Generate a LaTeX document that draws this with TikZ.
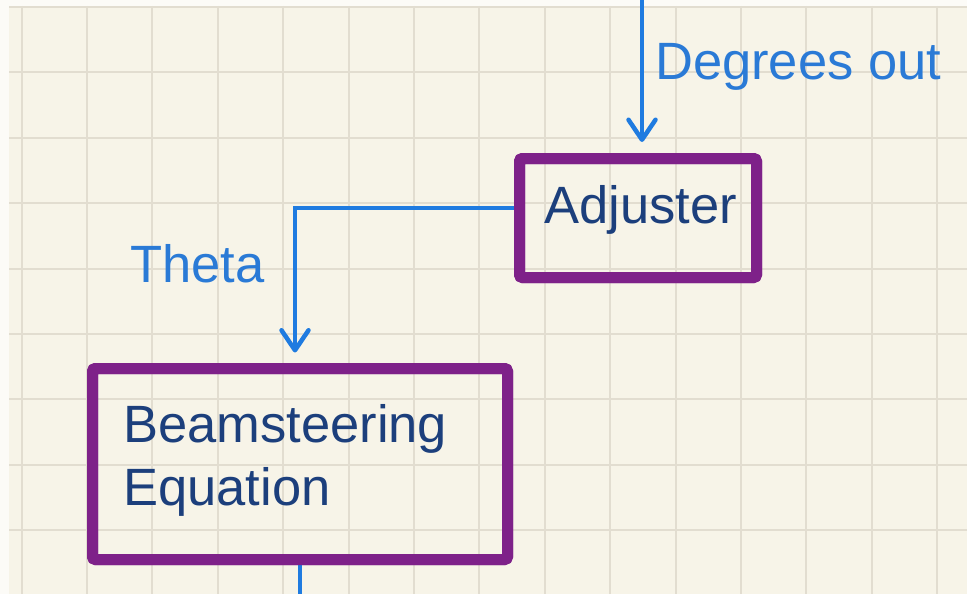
\documentclass[tikz,border=0pt]{standalone}
\usepackage{fontspec}
\newfontfamily\diagfont{Liberation Sans}
\usetikzlibrary{arrows.meta,calc}
\definecolor{paper}{HTML}{F7F4E8}
\definecolor{margin}{HTML}{FCFBF7}
\definecolor{gridline}{HTML}{E2DDD0}
\definecolor{boxpurple}{HTML}{7E2189}
\definecolor{flowblue}{HTML}{1F7BE0}
\definecolor{labelblue}{HTML}{2A7AD6}
\definecolor{boxtext}{HTML}{1C3F7C}
\begin{document}
\begin{tikzpicture}[x=1pt,y=-1pt,
  block/.style={draw=boxpurple,line width=11pt,rounded corners=3pt,inner sep=0pt},
  flow/.style={draw=flowblue,line width=4.5pt,line cap=round,
    -{Straight Barb[length=20pt,width=27pt,round]}},
  plainflow/.style={draw=flowblue,line width=4.5pt},
  sig/.style={font=\diagfont\fontsize{52.5}{63}\selectfont,text=labelblue,inner sep=0pt},
  boxlabel/.style={font=\diagfont\fontsize{52.5}{63}\selectfont,text=boxtext,inner sep=0pt},
  gridrule/.style={draw=gridline,line width=2pt}]
  % page and squared paper
  \useasboundingbox (0,0) rectangle (967,594);
  \fill[margin] (0,0) rectangle (967,594);
  \fill[paper] (9,6) rectangle (967,594);
  \foreach \k in {0,...,14}
    \draw[gridrule] ({21.5+65.4*\k},6) -- ({21.5+65.4*\k},594);
  \foreach \k in {0,...,8}
    \draw[gridrule] (9,{7+65.4*\k}) -- (967,{7+65.4*\k});

  % blocks
  \node[block,minimum width=237pt,minimum height=119pt] (adj) at (638,218) {};
  \node[block,minimum width=415pt,minimum height=191pt] (bse) at (300,464) {};

  % connectors
  \coordinate (feed) at (642,0);
  \coordinate (exit) at (0,600);
  \draw[flow,shorten >=11pt] (feed) -- (feed |- adj.north);
  \draw[flow,shorten >=10.5pt,line cap=butt] ([yshift=10pt]adj.west) -| ([xshift=-5pt]bse.north);
  \draw[plainflow] (bse.south) -- (bse.south |- exit);

  % redraw block outlines over the connector ends
  \node[block,minimum width=237pt,minimum height=119pt] at (adj) {};
  \node[block,minimum width=415pt,minimum height=191pt] at (bse) {};

  % texts
  \node[boxlabel,anchor=base west] (adjtext) at (544,223) {Adjuster};
  \node[boxlabel,anchor=base west] (bsetexta) at (123,442) {Beamsteering};
  \node[boxlabel,anchor=base west] (bsetextb) at (123,505) {Equation};
  \node[sig,anchor=base west] (degout) at (655,80) {Degrees out};
  \node[sig,anchor=base west] (theta) at (130,282) {Theta};
\end{tikzpicture}
\end{document}
